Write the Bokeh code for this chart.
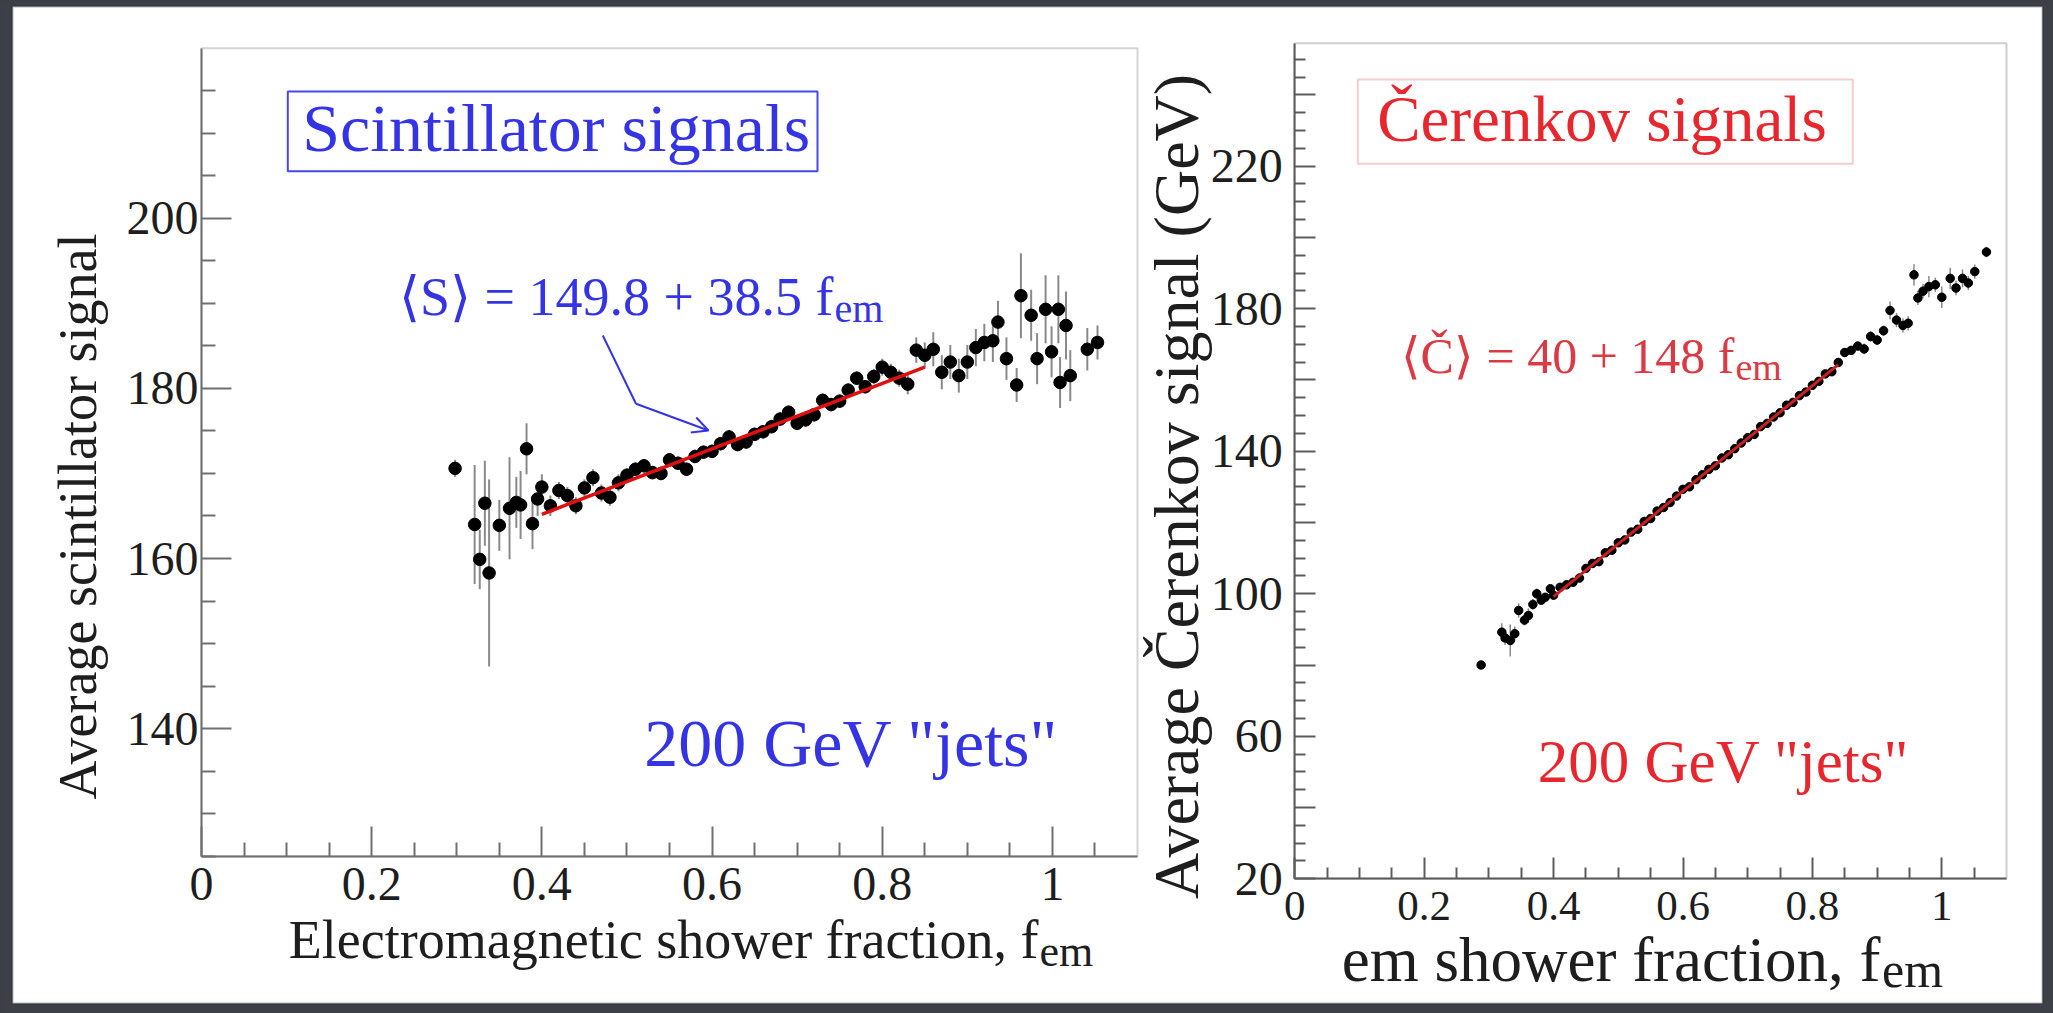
import numpy as np
from bokeh.plotting import figure
from bokeh.models import (ColumnDataSource, Range1d, FixedTicker, Label, LinearAxis,
                          BoxAnnotation, Arrow, OpenHead, GlobalInlineStyleSheet)
from bokeh.embed import file_html
from bokeh.resources import INLINE

SERIF = "Liberation Serif"
BLUE = "#3434e4"
RED = "#e8262e"
RED2 = "#da3a44"
AXIS = "#707070"
DARK = "#3d4047"
INK = "#1e1e1e"

# ---------------- data: scintillator (left panel) ----------------
sci_x = [0.298, 0.321, 0.327, 0.333, 0.338, 0.350, 0.362, 0.370, 0.375, 0.382, 0.389, 0.395,
         0.40, 0.41, 0.42, 0.43, 0.44, 0.45, 0.46, 0.47, 0.48, 0.49,
         0.50, 0.51, 0.52, 0.53, 0.54, 0.55, 0.56, 0.57, 0.58, 0.59,
         0.60, 0.61, 0.62, 0.63, 0.64, 0.65, 0.66, 0.67, 0.68, 0.69,
         0.70, 0.71, 0.72, 0.73, 0.74, 0.75, 0.76, 0.77, 0.78, 0.79,
         0.80, 0.81, 0.82, 0.83, 0.84, 0.85,
         0.86, 0.87, 0.88, 0.89, 0.90, 0.91, 0.92, 0.93, 0.936, 0.946, 0.958, 0.963,
         0.975, 0.982, 0.992, 0.999, 1.007, 1.009, 1.016, 1.021, 1.041, 1.053]
sci_y = [170.6, 164.0, 159.9, 166.5, 158.3, 163.9, 165.9, 166.6, 166.3, 172.9, 164.1, 167.0,
         168.4, 166.2, 168.0, 167.4, 166.2, 168.3, 169.5, 167.7, 167.2, 168.9,
         169.8, 170.5, 170.9, 170.1, 170.0, 171.6, 171.2, 170.5, 172.0, 172.5,
         172.6, 173.5, 174.3, 173.4, 173.7, 174.6, 174.9, 175.5, 176.4, 177.2,
         175.9, 176.3, 176.9, 178.6, 178.1, 178.5, 179.8, 181.2, 180.2, 181.4,
         182.5, 181.9, 181.2, 180.5, 184.5, 183.9,
         184.6, 181.9, 183.1, 181.5, 183.1, 184.8, 185.4, 185.6, 187.8, 183.5, 180.4, 190.9,
         188.6, 183.5, 189.3, 184.3, 189.3, 180.7, 187.4, 181.5, 184.6, 185.4]
sci_err = [1.0, 7.0, 3.5, 5.0, 11.0, 3.0, 6.0, 3.0, 4.0, 3.0, 3.0, 2.0,
           1.5, 1.2, 1.0, 1.0, 1.0, 1.0, 1.0, 1.0, 1.0, 1.0,
           0.8, 0.8, 0.8, 0.8, 0.8, 0.8, 0.8, 0.8, 0.8, 0.8,
           0.8, 0.8, 0.8, 0.8, 0.8, 0.8, 0.8, 0.8, 0.8, 0.8,
           0.8, 0.8, 0.8, 0.8, 0.8, 0.8, 0.8, 0.8, 0.8, 0.9,
           1.0, 1.0, 1.0, 1.2, 1.5, 1.5,
           2.0, 2.0, 2.0, 2.0, 2.0, 2.2, 2.2, 2.5, 2.5, 2.5, 2.0, 5.0,
           3.0, 3.0, 4.0, 3.0, 4.0, 3.0, 4.0, 3.0, 2.5, 2.0]
sci_fit_x = [0.40, 0.85]
sci_fit_y = [165.2, 182.5]

# ---------------- data: Cerenkov (right panel) ----------------
cer_x = [0.288, 0.320, 0.325, 0.333, 0.340, 0.346, 0.355, 0.361, 0.368, 0.374, 0.381, 0.387, 0.395,
         0.40, 0.41, 0.42, 0.43, 0.44, 0.45, 0.46, 0.47, 0.48, 0.49,
         0.50, 0.51, 0.52, 0.53, 0.54, 0.55, 0.56, 0.57, 0.58, 0.59,
         0.60, 0.61, 0.62, 0.63, 0.64, 0.65, 0.66, 0.67, 0.68, 0.69,
         0.70, 0.71, 0.72, 0.73, 0.74, 0.75, 0.76, 0.77, 0.78, 0.79,
         0.80, 0.81, 0.82, 0.83, 0.84,
         0.85, 0.86, 0.87, 0.88, 0.89, 0.90, 0.91, 0.92, 0.93, 0.94, 0.948, 0.957,
         0.963, 0.971, 0.980, 0.990, 1.000, 1.013, 1.022, 1.032, 1.041, 1.051, 1.069]
cer_y = [80.0, 89.2, 87.6, 86.9, 88.8, 95.3, 92.6, 93.9, 97.0, 100.0, 98.2, 99.0, 101.4,
         99.6, 101.8, 102.5, 103.2, 104.4, 107.1, 108.5, 109.0, 111.5, 112.2,
         114.3, 115.1, 117.3, 118.1, 120.3, 121.1, 123.2, 124.2, 125.6, 127.4,
         129.3, 130.0, 132.0, 133.4, 134.9, 135.9, 138.1, 139.0, 140.7, 142.3,
         143.8, 144.7, 146.9, 147.8, 149.6, 150.8, 152.9, 153.7, 155.6, 156.6,
         158.5, 159.6, 161.7, 162.3, 164.9,
         167.7, 168.3, 169.5, 168.7, 172.2, 171.2, 173.8, 179.5, 176.8, 175.3, 175.9, 189.5,
         183.0, 184.9, 186.2, 186.7, 183.2, 188.5, 185.8, 188.5, 187.2, 190.4, 195.9]
cer_err = [0.8, 2.5, 2.0, 4.5, 2.0, 2.0, 1.5, 2.0, 1.5, 1.5, 1.2, 1.2, 1.0,
           0.8, 0.8, 0.8, 0.8, 0.8, 0.8, 0.8, 0.8, 0.8, 0.8,
           0.8, 0.8, 0.8, 0.8, 0.8, 0.8, 0.8, 0.8, 0.8, 0.8,
           0.8, 0.8, 0.8, 0.8, 0.8, 0.8, 0.8, 0.8, 0.8, 0.8,
           0.8, 0.8, 0.8, 0.8, 0.8, 0.8, 0.8, 0.8, 0.8, 0.8,
           0.8, 0.8, 0.8, 0.8, 1.0,
           1.2, 1.2, 1.2, 1.5, 1.5, 1.5, 1.5, 2.5, 2.0, 2.0, 2.0, 3.0,
           2.0, 2.0, 3.0, 2.0, 3.0, 3.0, 2.0, 2.5, 2.0, 2.0, 1.5]
cer_fit_x = [0.40, 0.84]
cer_fit_y = [99.2, 164.3]

# ---------------- axes ----------------
x_lim = (0, 1.1)
sci_y_lim = (125, 220)
cer_y_lim = (20, 254.5)
x_ticks = [0, 0.2, 0.4, 0.6, 0.8, 1]
x_labels = ["0", "0.2", "0.4", "0.6", "0.8", "1"]
x_minor = [0.05, 0.1, 0.15, 0.25, 0.3, 0.35, 0.45, 0.5, 0.55, 0.65, 0.7, 0.75,
           0.85, 0.9, 0.95, 1.05]
sci_y_ticks = [140, 160, 180, 200]
sci_y_labels = ["140", "160", "180", "200"]
sci_y_minor = [125, 130, 135, 145, 150, 155, 165, 170, 175, 185, 190, 195, 205, 210, 215]
cer_y_ticks = [20, 40, 60, 80, 100, 120, 140, 160, 180, 200, 220, 240]
cer_y_labels = ["20", "", "60", "", "100", "", "140", "", "180", "", "220", ""]
cer_y_minor = [25, 30, 35, 45, 50, 55, 65, 70, 75, 85, 90, 95, 105, 110, 115, 125, 130, 135,
               145, 150, 155, 165, 170, 175, 185, 190, 195, 205, 210, 215, 225, 230, 235,
               245, 250]

# ---------------- page geometry (pixels) ----------------
W, H = 2053, 1013
LF = (201.0, 1137.0, 47.7, 855.7)     # left panel frame: x0, x1, top, bottom
RF = (1294.3, 2006.0, 42.7, 878.3)    # right panel frame
K = 0.35                               # baseline offset of Label text (em)


def xr_for(frame, lim):
    s = (frame[1] - frame[0]) / (lim[1] - lim[0])
    return Range1d(lim[0] - frame[0] / s, lim[0] + (W - frame[0]) / s)


def yr_for(frame, lim):
    s = (frame[3] - frame[2]) / (lim[1] - lim[0])
    return Range1d(lim[0] - (H - frame[3]) / s, lim[1] + frame[2] / s)


p = figure(width=W, height=H, x_range=xr_for(LF, x_lim), y_range=yr_for(LF, sci_y_lim),
           output_backend="svg", toolbar_location=None, min_border=0,
           x_axis_location=None, y_axis_location=None,
           background_fill_color=DARK, border_fill_color=DARK, outline_line_color=None)
p.grid.visible = False
p.extra_x_ranges = {"cx": xr_for(RF, x_lim), "px": Range1d(0, W)}
p.extra_y_ranges = {"cy": yr_for(RF, cer_y_lim), "py": Range1d(H, 0)}

# white sheet
p.add_layout(BoxAnnotation(x_range_name="px", y_range_name="py", left=12, right=2042,
                           top=6, bottom=1003, fill_color="white", fill_alpha=1.0,
                           line_color="#111111", line_width=2, level="underlay"))


def add_axes(xrn, yrn, ylim, yticks, ylabels, yminor, xfs, yfs, maj, mnr, xst, yst, col):
    xa = LinearAxis(x_range_name=xrn, y_range_name=yrn, fixed_location=ylim[0], bounds=x_lim,
                    ticker=FixedTicker(ticks=x_ticks, minor_ticks=x_minor))
    xa.major_label_overrides = dict(zip(x_ticks, x_labels))
    xa.major_label_text_font_size = xfs
    xa.major_label_standoff = xst
    ya = LinearAxis(x_range_name=xrn, y_range_name=yrn, fixed_location=x_lim[0], bounds=ylim,
                    ticker=FixedTicker(ticks=yticks, minor_ticks=yminor))
    ya.major_label_overrides = dict(zip(yticks, ylabels))
    ya.major_label_text_font_size = yfs
    ya.major_label_standoff = yst
    for ax in (xa, ya):
        ax.axis_line_color = col
        ax.axis_line_width = 2
        ax.major_tick_line_color = col
        ax.minor_tick_line_color = col
        ax.major_tick_line_width = 2
        ax.minor_tick_line_width = 2
        ax.major_tick_in = maj
        ax.major_tick_out = 0
        ax.minor_tick_in = mnr
        ax.minor_tick_out = 0
        ax.major_label_text_font = SERIF
        ax.major_label_text_color = INK
    p.add_layout(xa, "below")
    p.add_layout(ya, "left")
    p.add_layout(BoxAnnotation(x_range_name=xrn, y_range_name=yrn, left=x_lim[0], right=x_lim[1],
                               bottom=ylim[0], top=ylim[1], fill_color=None,
                               line_color=col, line_width=2))


add_axes("default", "default", sci_y_lim, sci_y_ticks, sci_y_labels, sci_y_minor,
         "48px", "48px", 30, 14, 12, 3, AXIS)
add_axes("cx", "cy", cer_y_lim, cer_y_ticks, cer_y_labels, cer_y_minor,
         "43px", "48px", 21, 11, 13, 12, "#5c5c5c")

# ---------------- left panel marks ----------------
s1 = ColumnDataSource(dict(x=sci_x, y=sci_y,
                           lo=[a - b for a, b in zip(sci_y, sci_err)],
                           hi=[a + b for a, b in zip(sci_y, sci_err)]))
p.segment(x0="x", y0="lo", x1="x", y1="hi", source=s1, line_color="#8a8a8a", line_width=2)
p.scatter(x="x", y="y", source=s1, size=12.5, color="black")
p.line(sci_fit_x, sci_fit_y, line_color="#e01010", line_width=3.5)

# ---------------- right panel marks ----------------
s2 = ColumnDataSource(dict(x=cer_x, y=cer_y,
                           lo=[a - b for a, b in zip(cer_y, cer_err)],
                           hi=[a + b for a, b in zip(cer_y, cer_err)]))
p.segment(x0="x", y0="lo", x1="x", y1="hi", source=s2, line_color="#8a8a8a", line_width=1.5,
          x_range_name="cx", y_range_name="cy")
p.scatter(x="x", y="y", source=s2, size=8.5, color="black", x_range_name="cx", y_range_name="cy")
p.line(cer_fit_x, cer_fit_y, line_color="#c82020", line_width=3, x_range_name="cx",
       y_range_name="cy")


# ---------------- texts (page pixel positions) ----------------
def txt(x, base, text, size, color, align="left", angle=0.0):
    if angle:
        lx, ly = x - K * size, base
    else:
        lx, ly = x, base - K * size
    p.add_layout(Label(x_range_name="px", y_range_name="py", x=lx, y=ly, text=text,
                       text_font=SERIF, text_font_size=f"{size}px", text_color=color,
                       text_align=align, text_baseline="alphabetic", angle=angle))


# left panel
p.add_layout(BoxAnnotation(x_range_name="px", y_range_name="py", left=287.3, right=817,
                           top=91, bottom=170.7, fill_color=None, line_color=BLUE,
                           line_width=2, line_alpha=0.9))
txt(301.7, 151.7, "Scintillator signals", 68, BLUE)
txt(833, 315, "\u27e8S\u27e9 = 149.8 + 38.5 f", 54, BLUE, align="right")
txt(834, 322, "em", 40, BLUE)
p.add_layout(Arrow(x_range_name="px", y_range_name="py", end=None,
                   x_start=602.3, y_start=335, x_end=635.5, y_end=403.3,
                   line_color=BLUE, line_width=2))
p.add_layout(Arrow(x_range_name="px", y_range_name="py",
                   end=OpenHead(size=16, line_color=BLUE, line_width=2),
                   x_start=635.5, y_start=403.3, x_end=708, y_end=430,
                   line_color=BLUE, line_width=2))
txt(1058, 766.7, "200 GeV \"jets\"", 68, BLUE, align="right")
txt(1038, 958, "Electromagnetic shower fraction, f", 54, INK, align="right")
txt(1039, 966.7, "em", 44, INK)
txt(96, 516, "Average scintillator signal", 54, INK, align="center", angle=np.pi / 2)

# right panel
p.add_layout(BoxAnnotation(x_range_name="px", y_range_name="py", left=1357.3, right=1852.3,
                           top=79, bottom=163.3, fill_color=None, line_color="#e05a5a",
                           line_width=2))
txt(1376.7, 141.7, "\u010cerenkov signals", 65, RED)
txt(1734, 373.3, "\u27e8\u010c\u27e9 = 40 + 148 f", 50, RED2, align="right")
txt(1735, 379.3, "em", 38, RED2)
txt(1909, 782.7, "200 GeV \"jets\"", 61, RED, align="right")
txt(1880, 981.7, "em shower fraction, f", 63, INK, align="right")
txt(1881.5, 986.7, "em", 50, INK)
txt(1198, 486, "Average \u010cerenkov signal (GeV)", 64, INK, align="center", angle=np.pi / 2)

p.stylesheets = [GlobalInlineStyleSheet(css="body { background-color: #3d4047; }")]

open("out.html", "w").write(file_html(p, INLINE))
